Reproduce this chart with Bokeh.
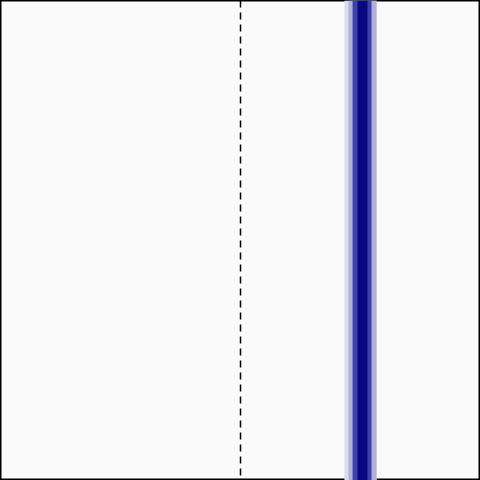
from bokeh.plotting import figure
from bokeh.models import Span, ColumnDataSource, Range1d
from bokeh.embed import file_html
from bokeh.resources import INLINE

# interval bands (outer to inner), in data units
band_lower = [0.433, 0.450, 0.467, 0.4875]
band_upper = [0.567, 0.567, 0.546, 0.529]
band_colors = ["#dcdcef", "#b0b0d9", "#4040aa", "#08087f"]
reference_x = 0.0

p = figure(width=480, height=480, output_backend="svg", toolbar_location=None,
           x_range=Range1d(-1, 1), y_range=Range1d(0, 1),
           min_border=0, background_fill_color="#fafafa", border_fill_color="#fafafa")
p.axis.visible = False
p.grid.visible = False
p.outline_line_color = "black"
p.outline_line_width = 2

src = ColumnDataSource(dict(left=band_lower, right=band_upper, color=band_colors,
                            bottom=[0] * len(band_lower), top=[1] * len(band_lower)))
p.quad(left="left", right="right", bottom="bottom", top="top", fill_color="color",
       line_color=None, source=src)

p.add_layout(Span(location=reference_x, dimension="height", line_color="black",
                  line_width=1.5, line_dash="7 5"))

open("out.html", "w").write(file_html(p, INLINE))
